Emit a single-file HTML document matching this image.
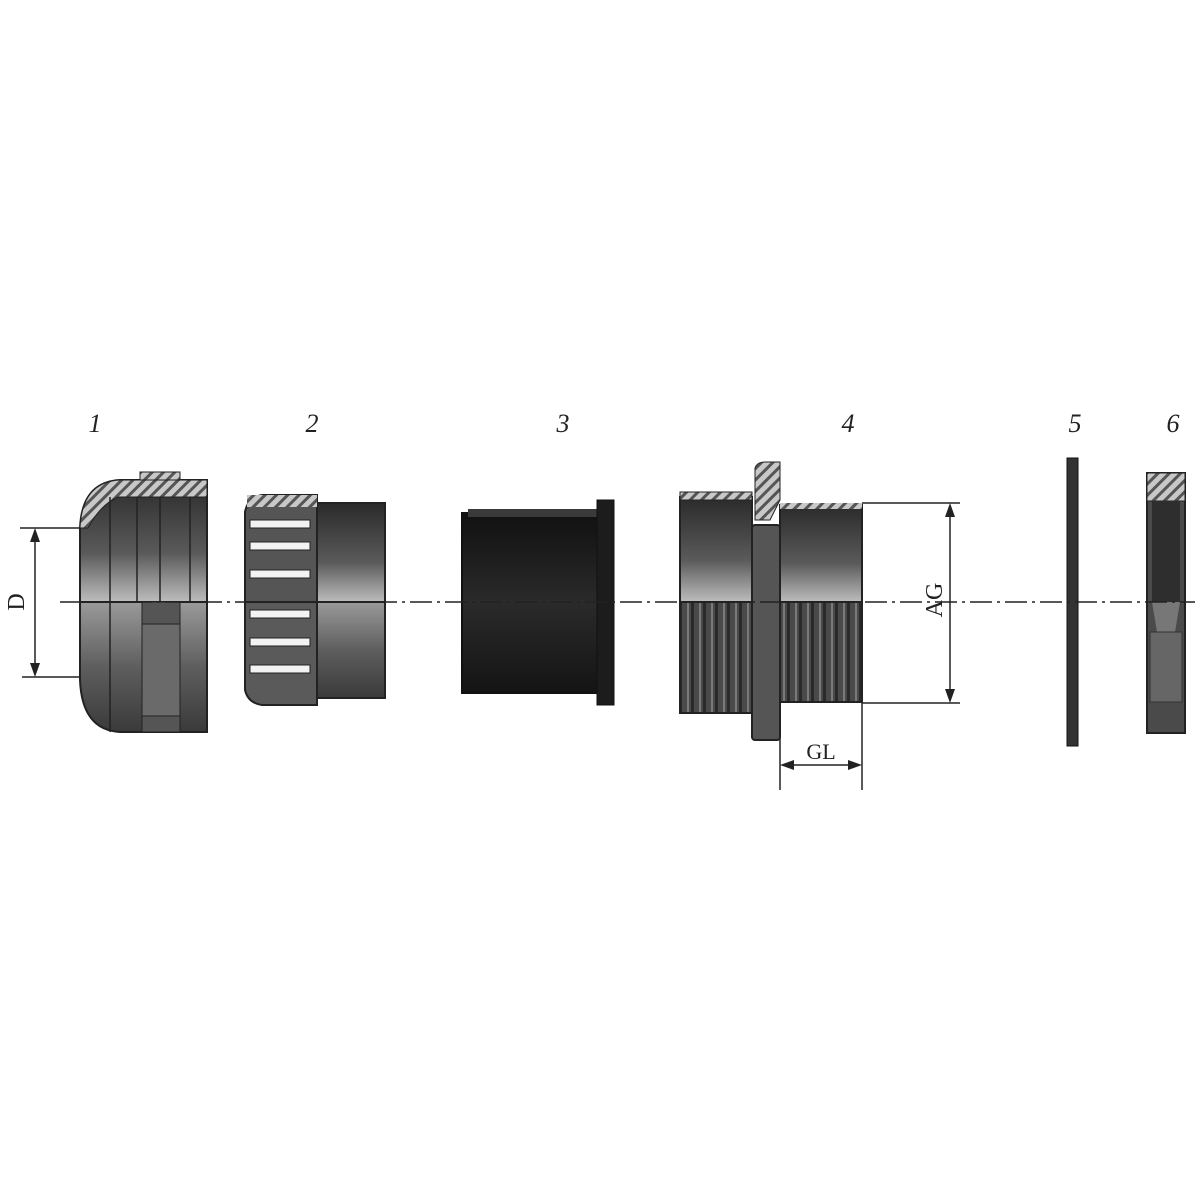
<!DOCTYPE html>
<html><head><meta charset="utf-8"><style>html,body{margin:0;padding:0;background:#fff}svg{display:block}</style></head>
<body>
<svg width="1200" height="1200" viewBox="0 0 1200 1200" xmlns="http://www.w3.org/2000/svg">
<defs>
<linearGradient id="up" x1="0" y1="0" x2="0" y2="1">
<stop offset="0" stop-color="#2a2a2a"/><stop offset="0.6" stop-color="#5a5a5a"/><stop offset="1" stop-color="#bdbdbd"/></linearGradient>
<linearGradient id="dn" x1="0" y1="0" x2="0" y2="1">
<stop offset="0" stop-color="#9a9a9a"/><stop offset="0.5" stop-color="#5e5e5e"/><stop offset="1" stop-color="#3a3a3a"/></linearGradient>
<linearGradient id="blk" x1="0" y1="0" x2="0" y2="1">
<stop offset="0" stop-color="#111"/><stop offset="0.5" stop-color="#2a2a2a"/><stop offset="1" stop-color="#141414"/></linearGradient>
<pattern id="hatch" width="8" height="8" patternUnits="userSpaceOnUse" patternTransform="rotate(45)">
<rect width="8" height="8" fill="#c8c8c8"/><rect width="3" height="8" fill="#555"/></pattern>
<pattern id="rib" width="12" height="10" patternUnits="userSpaceOnUse">
<rect width="12" height="10" fill="#4a4a4a"/><rect x="7" width="3" height="10" fill="#2a2a2a"/><rect x="3" width="2" height="10" fill="#7a7a7a"/></pattern>
</defs>
<g font-family="Liberation Serif, serif" font-style="italic" font-size="26" fill="#222" text-anchor="middle">
<text x="95" y="432">1</text><text x="312" y="432">2</text><text x="563" y="432">3</text>
<text x="848" y="432">4</text><text x="1075" y="432">5</text><text x="1173" y="432">6</text></g>

<!-- Part 1 -->
<path d="M80,602 L80,528 Q82,482 120,480 L207,480 L207,602 Z" fill="url(#up)" stroke="#222" stroke-width="2"/>
<path d="M80,528 Q82,482 120,480 L207,480 L207,497 L118,497 Q100,505 88,528 Z" fill="url(#hatch)" stroke="#222"/>
<path d="M80,602 L80,680 Q82,730 120,732 L207,732 L207,602 Z" fill="url(#dn)" stroke="#222" stroke-width="2"/>
<rect x="140" y="472" width="40" height="8" fill="url(#hatch)" stroke="#222"/>
<rect x="142" y="602" width="38" height="130" fill="#555" stroke="#222"/>
<rect x="142" y="624" width="38" height="92" fill="#6a6a6a" stroke="#222"/>
<g stroke="#222" stroke-width="1.5"><line x1="110" y1="497" x2="110" y2="732"/><line x1="137" y1="497" x2="137" y2="602"/><line x1="160" y1="497" x2="160" y2="602"/><line x1="190" y1="497" x2="190" y2="602"/></g>
<!-- D dim -->
<g stroke="#222" stroke-width="1.5"><line x1="20" y1="528" x2="80" y2="528"/><line x1="22" y1="677" x2="80" y2="677"/><line x1="35" y1="535" x2="35" y2="670"/></g>
<path d="M35,528 l-5,14 h10z M35,677 l-5,-14 h10z" fill="#222"/>
<text x="24" y="602" transform="rotate(-90 24 602)" font-family="Liberation Serif, serif" font-size="24" text-anchor="middle" fill="#222">D</text>

<!-- Part 2 -->
<rect x="317" y="503" width="68" height="99" fill="url(#up)" stroke="#222" stroke-width="2"/>
<rect x="317" y="602" width="68" height="96" fill="url(#dn)" stroke="#222" stroke-width="2"/>
<path d="M245,602 L245,512 Q248,497 262,495 L317,495 L317,602 Z" fill="#555" stroke="#222" stroke-width="2"/>
<path d="M245,602 L245,690 Q248,703 262,705 L317,705 L317,602 Z" fill="#5a5a5a" stroke="#222" stroke-width="2"/>
<rect x="247" y="495" width="70" height="12" fill="url(#hatch)"/>
<g fill="#f2f2f2" stroke="#222"><rect x="250" y="520" width="60" height="8"/><rect x="250" y="542" width="60" height="8"/><rect x="250" y="570" width="60" height="8"/><rect x="250" y="610" width="60" height="8"/><rect x="250" y="638" width="60" height="8"/><rect x="250" y="665" width="60" height="8"/></g>

<!-- Part 3 -->
<rect x="462" y="513" width="138" height="180" fill="url(#blk)" stroke="#111" stroke-width="2"/>
<rect x="468" y="509" width="132" height="8" fill="#3a3a3a"/>
<rect x="597" y="500" width="17" height="205" fill="#1c1c1c" stroke="#111"/>

<!-- Part 4 -->
<rect x="680" y="497" width="72" height="105" fill="url(#up)" stroke="#222" stroke-width="2"/>
<rect x="680" y="602" width="72" height="111" fill="url(#rib)" stroke="#222" stroke-width="2"/>
<rect x="680" y="492" width="72" height="8" fill="url(#hatch)" stroke="#222"/>
<rect x="752" y="525" width="28" height="215" fill="#555" stroke="#222" stroke-width="2" rx="3"/>
<path d="M755,468 Q757,462 765,462 L780,462 L780,500 L770,520 L755,520 Z" fill="url(#hatch)" stroke="#222"/>
<rect x="780" y="505" width="82" height="97" fill="url(#up)" stroke="#222" stroke-width="2"/>
<rect x="780" y="602" width="82" height="100" fill="url(#rib)" stroke="#222" stroke-width="2"/>
<rect x="780" y="503" width="82" height="6" fill="url(#hatch)"/>
<g stroke="#222" stroke-width="1.5"><line x1="862" y1="503" x2="960" y2="503"/><line x1="862" y1="703" x2="960" y2="703"/><line x1="950" y1="515" x2="950" y2="692"/>
<line x1="780" y1="715" x2="780" y2="790"/><line x1="862" y1="703" x2="862" y2="790"/><line x1="790" y1="765" x2="852" y2="765"/></g>
<path d="M950,503 l-5,14 h10z M950,703 l-5,-14 h10z M780,765 l14,-5 v10z M862,765 l-14,-5 v10z" fill="#222"/>
<text x="942" y="600" transform="rotate(-90 942 600)" font-family="Liberation Serif, serif" font-size="24" text-anchor="middle" fill="#222">AG</text>
<text x="821" y="759" font-family="Liberation Serif, serif" font-size="22" text-anchor="middle" fill="#222">GL</text>

<!-- Part 5 -->
<rect x="1067" y="458" width="11" height="288" fill="#333" stroke="#111"/>
<!-- Part 6 -->
<rect x="1147" y="473" width="38" height="260" fill="#4a4a4a" stroke="#222" stroke-width="2"/>
<rect x="1147" y="473" width="38" height="28" fill="url(#hatch)" stroke="#222"/>
<rect x="1152" y="501" width="28" height="101" fill="#2e2e2e"/>
<path d="M1152,602 L1180,602 L1175,632 L1157,632 Z" fill="#777"/>
<rect x="1150" y="632" width="32" height="70" fill="#666" stroke="#333"/>

<!-- centerline -->
<line x1="60" y1="602" x2="1195" y2="602" stroke="#222" stroke-width="1.5" stroke-dasharray="22,5,3,5"/>
</svg>
</body></html>
